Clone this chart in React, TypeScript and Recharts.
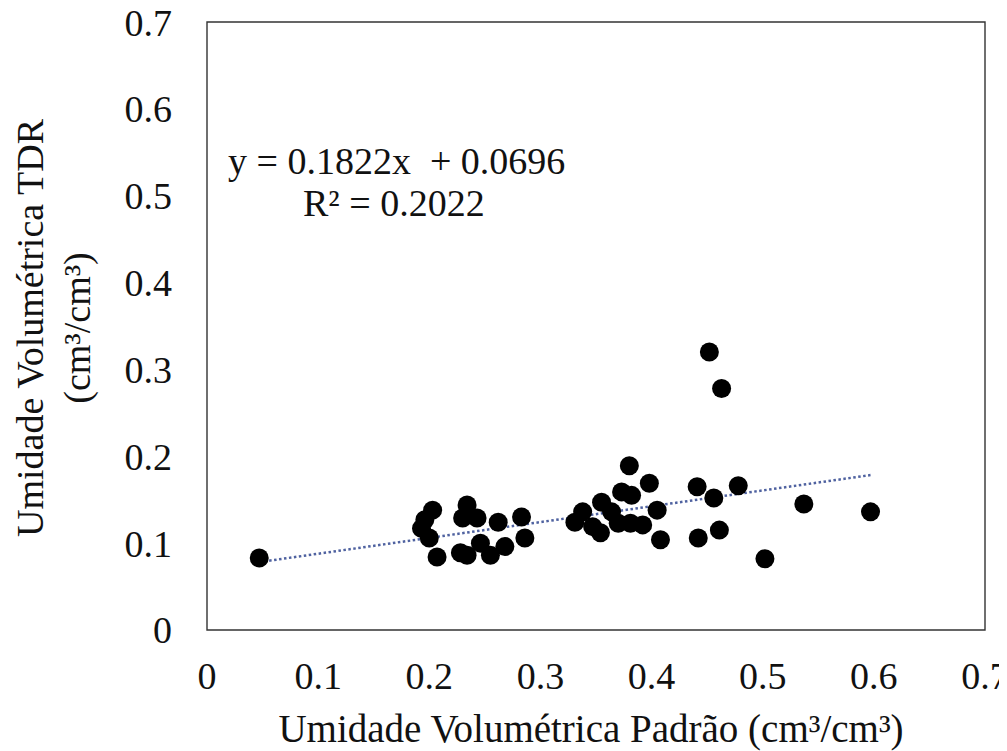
import React from "react";
import { ScatterChart, Scatter, XAxis, YAxis, ReferenceArea } from "recharts";

const xValues = [
  0.047, 0.203, 0.196, 0.193, 0.2, 0.207, 0.234, 0.23, 0.243, 0.228, 0.234, 0.246, 0.255, 0.262, 0.268, 0.283, 0.286,
  0.38, 0.398, 0.373, 0.382, 0.355, 0.338, 0.405, 0.331, 0.347, 0.354, 0.37, 0.381, 0.392, 0.408, 0.364,
  0.452, 0.463, 0.441, 0.456, 0.478, 0.537, 0.597, 0.442, 0.461, 0.502,
];
const yValues = [
  0.083, 0.138, 0.127, 0.117, 0.106, 0.084, 0.144, 0.129, 0.129, 0.089, 0.086, 0.1, 0.086, 0.124, 0.096, 0.13, 0.106,
  0.189, 0.169, 0.159, 0.155, 0.147, 0.136, 0.138, 0.124, 0.119, 0.112, 0.123, 0.123, 0.121, 0.104, 0.136,
  0.32, 0.278, 0.165, 0.152, 0.166, 0.145, 0.136, 0.106, 0.115, 0.082,
];
const tickValues = [0, 0.1, 0.2, 0.3, 0.4, 0.5, 0.6, 0.7];
const slope = 0.1822;
const intercept = 0.0696;
const equationText = "y = 0.1822x  + 0.0696";
const r2Text = "R² = 0.2022";
const xTitle = "Umidade Volumétrica Padrão (cm³/cm³)";
const yTitle1 = "Umidade Volumétrica TDR";
const yTitle2 = "(cm³/cm³)";

const points = xValues.map((x, i) => ({ x, y: yValues[i] }));
const minX = Math.min(...xValues);
const maxX = Math.max(...xValues);
const trend = [minX, maxX].map((x) => ({ x, y: slope * x + intercept }));

const FONT = "'Liberation Serif', 'Times New Roman', Tinos, 'DejaVu Serif', serif";
const W = 999;
const H = 743;
const TEXT = "#111";

const Dot = (props: any) => {
  const { cx, cy } = props;
  if (cx == null || cy == null) return null;
  return <circle cx={cx} cy={cy} r={9.5} fill="#000" />;
};

const tickStyle = { fontFamily: FONT, fontSize: 38, fill: TEXT };

export default function App() {
  return (
    <div style={{ position: "relative", width: W, height: H, background: "#fff" }}>
      <ScatterChart width={W} height={H} margin={{ top: 14, right: 22, left: 0, bottom: 41 }}>
        <XAxis
          type="number"
          dataKey="x"
          domain={[0, 0.7]}
          ticks={tickValues}
          tickFormatter={(v: number) => String(v)}
          tick={tickStyle}
          tickSize={0}
          tickMargin={32}
          height={80}
          axisLine={false}
          interval={0}
        />
        <YAxis
          type="number"
          dataKey="y"
          domain={[0, 0.7]}
          ticks={tickValues}
          tickFormatter={(v: number) => String(v)}
          tick={tickStyle}
          tickSize={0}
          tickMargin={35}
          width={199}
          axisLine={false}
          interval={0}
        />
        <ReferenceArea
          x1={0}
          x2={0.7}
          y1={0}
          y2={0.7}
          fill="none"
          fillOpacity={0}
          stroke="#333"
          strokeWidth={1.4}
        />
        <Scatter
          data={trend}
          line={{ stroke: "#4f62a0", strokeWidth: 2.5, strokeDasharray: "2.5 2.5" }}
          shape={() => null}
          isAnimationActive={false}
        />
        <Scatter data={points} shape={<Dot />} isAnimationActive={false} />
      </ScatterChart>
      <svg
        width={W}
        height={H}
        style={{ position: "absolute", left: 0, top: 0, pointerEvents: "none", whiteSpace: "pre" }}
      >
        <text x={220} y={153} fontFamily={FONT} fontSize={38} fill={TEXT} dominantBaseline="central" style={{ whiteSpace: "pre" }}>
          {equationText}
        </text>
        <text x={295} y={195} fontFamily={FONT} fontSize={38} fill={TEXT} dominantBaseline="central">
          {r2Text}
        </text>
        <text x={583} y={734} fontFamily={FONT} fontSize={39} fill={TEXT} textAnchor="middle">
          {xTitle}
        </text>
        <text
          x={22}
          y={320}
          fontFamily={FONT}
          fontSize={38}
          fill={TEXT}
          textAnchor="middle"
          dominantBaseline="central"
          transform="rotate(-90 22 320)"
        >
          {yTitle1}
        </text>
        <text
          x={69}
          y={320}
          fontFamily={FONT}
          fontSize={38}
          fill={TEXT}
          textAnchor="middle"
          dominantBaseline="central"
          transform="rotate(-90 69 320)"
        >
          {yTitle2}
        </text>
      </svg>
    </div>
  );
}
